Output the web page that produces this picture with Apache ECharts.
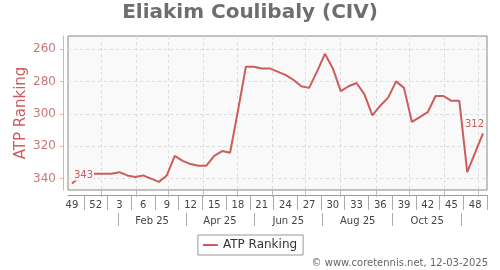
<!DOCTYPE html>
<html><head><meta charset="utf-8">
<script src="https://cdn.jsdelivr.net/npm/echarts@6/dist/echarts.min.js"></script>
<style>html,body{margin:0;padding:0;background:#fff}#c{width:500px;height:270px}</style>
</head><body><div id="c"></div>
<script>
const chartTitle = 'Eliakim Coulibaly (CIV)';
const seriesName = 'ATP Ranking';
const footerText = '\u00a9 www.coretennis.net, 12-03-2025';
const weekLabels = ['49','50','51','52','1','2','3','4','5','6','7','8','9','10','11','12','13','14','15','16','17','18','19','20','21','22','23','24','25','26','27','28','29','30','31','32','33','34','35','36','37','38','39','40','41','42','43','44','45','46','47','48','49'];
const ranking = [343,339,337,337,337,337,336,338,339,338,340,342,338,326,329,331,332,332,326,323,324,298,271,271,272,272,274,276,279,283,284,274,263,272,286,283,281,288,301,295,290,280,284,305,302,299,289,289,292,292,336,324,312];
const firstWeekDate = '2024-12-06';
const monthGridDates = ['2025-01-01','2025-02-01','2025-03-01','2025-04-01','2025-05-01','2025-06-01','2025-07-01','2025-08-01','2025-09-01','2025-10-01','2025-11-01','2025-12-01'];
const periodSeparatorDates = ['2025-01-16','2025-03-17','2025-05-16','2025-07-16','2025-09-16','2025-11-16'];
const periodLabels = ['Feb 25','Apr 25','Jun 25','Aug 25','Oct 25'];
const yTickValues = [260,280,300,320,340];

const toIdx = d => (Date.parse(d) - Date.parse(firstWeekDate)) / (7 * 86400000);
const monthPos = monthGridDates.map(toIdx);
const sepPos = periodSeparatorDates.map(toIdx);
const periodPos = periodLabels.map((_, k) => (sepPos[k] + sepPos[k + 1]) / 2);

const font = 'DejaVu Sans';
const lineColor = '#cd5c5c';
const plotBg = '#f9f9f9';
const last = ranking.length - 1;

const chart = echarts.init(document.getElementById('c'), null, {renderer: 'canvas'});
chart.setOption({
  animation: false,
  textStyle: {fontFamily: font},
  title: {text: chartTitle, left: 'center', top: 3, padding: 0,
    textStyle: {fontFamily: font, fontSize: 20, fontWeight: 'bold', color: '#6e6e6e'}},
  grid: {left: 68, right: 13, top: 36, bottom: 80, show: true, backgroundColor: plotBg,
    borderColor: '#888', borderWidth: 1},
  legend: {data: [seriesName], left: 'center', top: 235, padding: [4, 6, 4, 5],
    borderColor: '#999', borderWidth: 1, backgroundColor: '#fff',
    icon: 'rect', itemWidth: 15, itemHeight: 2, itemGap: 5,
    textStyle: {fontFamily: font, fontSize: 12, color: '#333'}},
  xAxis: [
    {type: 'category', data: weekLabels, boundaryGap: true, position: 'bottom', offset: 5,
      axisLine: {show: true, onZero: false, lineStyle: {color: '#999', width: 1}},
      axisTick: {show: true, length: 15, interval: i => i % 3 === 2, lineStyle: {color: '#aaa'}},
      axisLabel: {interval: 2, margin: 5, fontFamily: font, fontSize: 10, color: '#444'},
      splitLine: {show: false}},
    {type: 'value', min: -0.5, max: 52.5, position: 'bottom', offset: 0,
      axisLine: {show: false, onZero: false},
      axisTick: {show: true, length: 7, customValues: monthPos, lineStyle: {color: '#bbb'}},
      axisLabel: {show: false, customValues: monthPos},
      splitLine: {show: true, lineStyle: {color: '#ddd', type: [3, 3]}}},
    {type: 'value', min: -0.5, max: 52.5, position: 'bottom', offset: 23,
      axisLine: {show: false, onZero: false},
      axisTick: {show: true, length: 13, customValues: sepPos, lineStyle: {color: '#aaa'}},
      axisLabel: {show: true, customValues: periodPos, margin: 3, fontFamily: font, fontSize: 10, color: '#444',
        formatter: v => { const k = periodPos.findIndex(p => Math.abs(p - v) < 1e-6); return k >= 0 ? periodLabels[k] : ''; }},
      splitLine: {show: false}}
  ],
  yAxis: {type: 'value', inverse: true, min: 252, max: 347, offset: 5,
    name: seriesName, nameLocation: 'middle', nameGap: 34, nameMoveOverlap: false,
    nameTextStyle: {fontFamily: font, fontSize: 15, color: lineColor},
    axisLine: {show: true, onZero: false, lineStyle: {color: '#e0b0b0'}},
    axisTick: {show: true, length: 3, customValues: yTickValues, lineStyle: {color: '#e0b0b0'}},
    axisLabel: {customValues: yTickValues, margin: 7, fontFamily: font, fontSize: 12, color: '#cc7777'},
    splitLine: {show: true, lineStyle: {color: '#ddd', type: [3, 3]}}},
  graphic: [{type: 'text', right: 12, top: 258,
    style: {text: footerText, font: '10px "DejaVu Sans"', fill: '#666'}}],
  series: [{name: seriesName, type: 'line', xAxisIndex: 0, yAxisIndex: 0,
    showSymbol: true, showAllSymbol: true, symbol: 'circle', symbolSize: 0,
    lineStyle: {color: lineColor, width: 2}, itemStyle: {color: lineColor},
    data: ranking.map((v, i) => {
      if (i === 0) return {value: v, label: {show: true, position: [1, -13], align: 'left', verticalAlign: 'top',
        fontSize: 10, color: lineColor, backgroundColor: plotBg, padding: [0, 1], formatter: '{c}'}};
      if (i === last) return {value: v, label: {show: true, position: [1, -14], align: 'right', verticalAlign: 'top',
        fontSize: 10, color: lineColor, formatter: '{c}'}};
      return v;
    })}]
});
</script></body></html>
